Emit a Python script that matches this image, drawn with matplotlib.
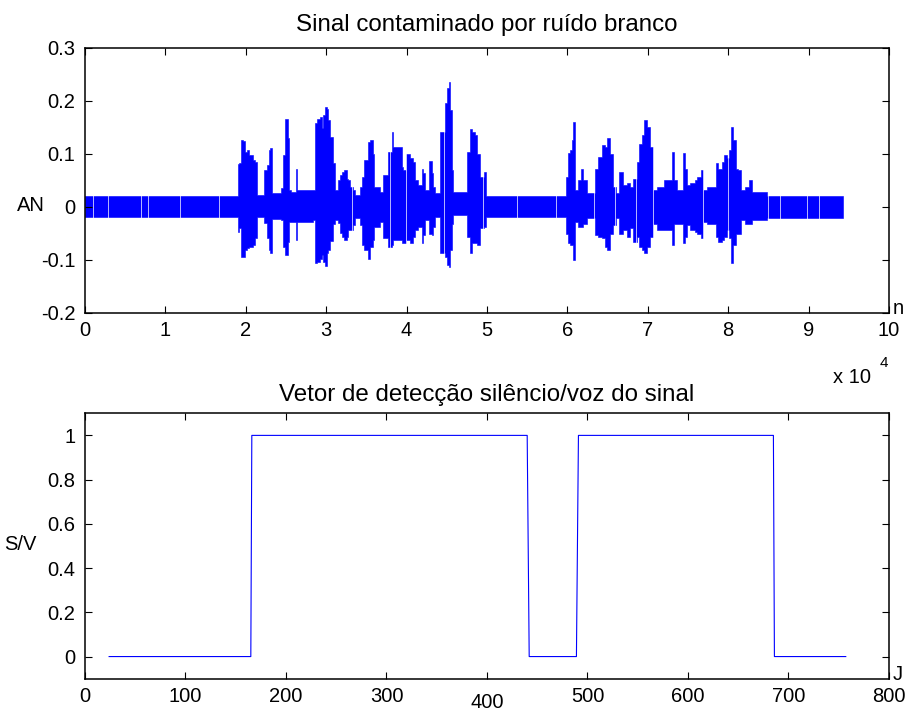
import matplotlib

matplotlib.use("Agg")
import matplotlib.pyplot as plt

# top panel: envelope of the noisy signal, one step per segment (sample index, upper, lower)
sig_n = [0, 19000, 19160, 19400, 19650, 19900, 20150, 20400, 20900, 21150,
         21400, 22270, 22600, 22890, 23010, 23260, 24380, 24670, 24920, 25220,
         25380, 25630, 26250, 26430, 28400, 28610, 28900, 29230, 29440, 29610,
         29860, 30070, 30230, 30480, 30810, 31100, 31510, 31720, 31930, 32220,
         32560, 32720, 32970, 33340, 33590, 34210, 34420, 34710, 35170, 35450,
         35790, 35950, 36700, 37070, 37690, 38150, 38320, 38940, 39400, 39600,
         39930, 40430, 40840, 41050, 41460, 41890, 42080, 42300, 42830, 43130,
         43330, 43540, 44160, 44780, 45000, 45240, 45410, 45620, 45820, 47480,
         47890, 48180, 48520, 48800, 49140, 49640, 49880, 59800, 60050, 60330,
         60550, 60750, 60960, 61370, 61670, 61990, 62410, 63440, 63860, 64280,
         64690, 64970, 65310, 65720, 66060, 66470, 66960, 67390, 67800, 68210,
         68630, 68960, 69250, 69540, 69880, 70290, 70620, 71120, 72070, 72990,
         73270, 73610, 74350, 74640, 74890, 75260, 75880, 76100, 76590, 76920,
         77340, 78500, 78780, 79210, 79530, 79830, 80150, 80360, 80650, 80980,
         81270, 81570, 82100, 82640, 82980, 84800, 94330]
sig_hi = [0.021, 0.080, 0.082, 0.126, 0.124, 0.103, 0.107, 0.097, 0.088, 0.085,
          0.022, 0.069, 0.078, 0.107, 0.110, 0.026, 0.035, 0.097, 0.165, 0.129,
          0.031, 0.027, 0.072, 0.031, 0.031, 0.157, 0.166, 0.169, 0.148, 0.173,
          0.188, 0.185, 0.163, 0.132, 0.082, 0.031, 0.050, 0.059, 0.066, 0.069,
          0.053, 0.050, 0.037, 0.031, 0.022, 0.037, 0.056, 0.088, 0.122, 0.126,
          0.100, 0.037, 0.027, 0.059, 0.103, 0.141, 0.113, 0.113, 0.075, 0.069,
          0.100, 0.091, 0.085, 0.050, 0.041, 0.072, 0.063, 0.031, 0.086, 0.063,
          0.037, 0.025, 0.141, 0.195, 0.223, 0.236, 0.182, 0.069, 0.027, 0.103,
          0.146, 0.141, 0.135, 0.100, 0.056, 0.066, 0.021, 0.056, 0.102, 0.107,
          0.126, 0.159, 0.031, 0.050, 0.072, 0.050, 0.025, 0.072, 0.094, 0.116,
          0.113, 0.129, 0.100, 0.037, 0.025, 0.066, 0.041, 0.044, 0.037, 0.053,
          0.085, 0.119, 0.135, 0.163, 0.151, 0.113, 0.031, 0.037, 0.051, 0.103,
          0.050, 0.031, 0.102, 0.072, 0.041, 0.044, 0.050, 0.056, 0.069, 0.031,
          0.037, 0.082, 0.072, 0.085, 0.097, 0.091, 0.107, 0.151, 0.126, 0.072,
          0.069, 0.031, 0.037, 0.050, 0.027, 0.020, 0.020]
sig_lo = [-0.020, -0.048, -0.041, -0.095, -0.095, -0.082, -0.078, -0.076, -0.073, -0.060,
          -0.020, -0.031, -0.059, -0.082, -0.088, -0.024, -0.026, -0.076, -0.092, -0.066,
          -0.029, -0.029, -0.063, -0.029, -0.026, -0.107, -0.105, -0.098, -0.092, -0.105,
          -0.112, -0.088, -0.082, -0.065, -0.032, -0.026, -0.031, -0.050, -0.057, -0.063,
          -0.057, -0.044, -0.044, -0.035, -0.022, -0.035, -0.073, -0.082, -0.098, -0.076,
          -0.063, -0.038, -0.029, -0.060, -0.076, -0.073, -0.063, -0.063, -0.069, -0.069,
          -0.063, -0.069, -0.057, -0.044, -0.038, -0.069, -0.054, -0.026, -0.051, -0.054,
          -0.038, -0.020, -0.088, -0.095, -0.110, -0.114, -0.082, -0.032, -0.016, -0.057,
          -0.088, -0.069, -0.069, -0.073, -0.040, -0.038, -0.020, -0.051, -0.069, -0.073,
          -0.073, -0.101, -0.029, -0.038, -0.038, -0.033, -0.022, -0.054, -0.057, -0.060,
          -0.076, -0.082, -0.051, -0.035, -0.022, -0.051, -0.044, -0.057, -0.041, -0.066,
          -0.057, -0.076, -0.082, -0.088, -0.076, -0.057, -0.032, -0.044, -0.044, -0.073,
          -0.032, -0.032, -0.069, -0.057, -0.035, -0.044, -0.047, -0.051, -0.060, -0.029,
          -0.032, -0.057, -0.066, -0.063, -0.057, -0.044, -0.060, -0.107, -0.073, -0.051,
          -0.051, -0.026, -0.032, -0.032, -0.026, -0.021, -0.021]
# thin white breaks visible inside the trace
gap_n = [1030, 2900, 6970, 7800, 11820, 16710, 33180, 37980, 39890, 44700,
         49550, 53700, 58550, 63320, 65930, 68540, 70660, 76880, 80030, 84990,
         86450, 89770, 91310]

# bottom panel: silence/voice decision per frame
sv_j = [24, 165, 166, 440, 442, 489, 491, 685, 686, 757]
sv_val = [0, 0, 1, 1, 0, 0, 1, 1, 0, 0]

top_xticks = list(range(0, 100001, 10000))
top_xlabels = [str(i) for i in range(11)]
top_yticks = [-0.2, -0.1, 0, 0.1, 0.2, 0.3]
top_ylabels = ["-0.2", "-0.1", "0", "0.1", "0.2", "0.3"]
bot_xticks = list(range(0, 801, 100))
bot_yticks = [0, 0.2, 0.4, 0.6, 0.8, 1]
bot_ylabels = ["0", "0.2", "0.4", "0.6", "0.8", "1"]

BLUE = "#0000ff"

plt.rcParams.update(
    {
        "font.family": ["Liberation Sans", "DejaVu Sans"],
        "font.size": 14.5,
        "axes.linewidth": 1.1,
        "xtick.direction": "in",
        "ytick.direction": "in",
        "xtick.top": True,
        "ytick.right": True,
        "xtick.major.size": 5,
        "ytick.major.size": 5,
        "xtick.major.width": 0.8,
        "ytick.major.width": 0.8,
        "xtick.major.pad": 6,
        "ytick.major.pad": 7,
    }
)

fig = plt.figure(figsize=(9.1, 7.15), dpi=100)
ax1 = fig.add_axes([0.0934, 0.5627, 0.8835, 0.3706])
ax2 = fig.add_axes([0.0934, 0.0508, 0.8835, 0.3712])

# --- top: noisy speech signal
ax1.fill_between(sig_n, sig_lo, sig_hi, step="post", color=BLUE, linewidth=0.4, edgecolor=BLUE)
ax1.vlines(gap_n, -0.15, 0.25, color="white", linewidth=0.5)
ax1.set_xlim(0, 100000)
ax1.set_ylim(-0.2, 0.3)
ax1.set_xticks(top_xticks)
ax1.set_xticklabels(top_xlabels)
ax1.set_yticks(top_yticks)
ax1.set_yticklabels(top_ylabels)
ax1.set_title("Sinal contaminado por ruído branco", pad=12)
ax1.text(-0.05, 0.403, "AN", transform=ax1.transAxes, ha="right", va="center")
ax1.text(1.004, -0.02, "n", transform=ax1.transAxes, ha="left", va="bottom")
fig.text(0.915, 0.472, "x 10", ha="left", va="center")
fig.text(0.967, 0.493, "4", ha="left", va="center", fontsize=11)

# --- bottom: silence/voice vector
ax2.plot(sv_j, sv_val, color=BLUE, linewidth=0.8)
ax2.set_xlim(0, 800)
ax2.set_ylim(-0.1, 1.1)
ax2.set_xticks(bot_xticks)
ax2.set_yticks(bot_yticks)
ax2.set_yticklabels(bot_ylabels)
ax2.xaxis.get_major_ticks()[4].set_pad(10)
ax2.set_title("Vetor de detecção silêncio/voz do sinal", pad=9)
ax2.text(-0.06, 0.504, "S/V", transform=ax2.transAxes, ha="right", va="center")
ax2.text(1.004, -0.02, "J", transform=ax2.transAxes, ha="left", va="bottom")

fig.savefig("out.png", dpi=100)
plt.close(fig)
